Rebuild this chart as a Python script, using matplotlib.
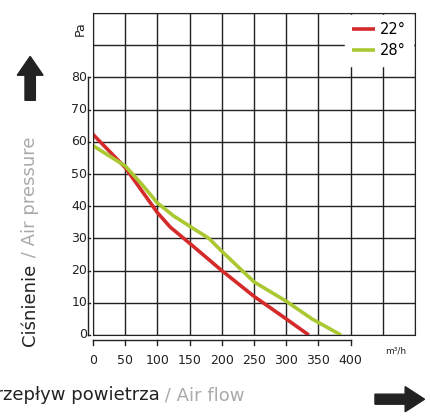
import matplotlib
matplotlib.use("Agg")
import matplotlib.pyplot as plt
from matplotlib.patches import FancyArrow

flow_22 = [0, 50, 75, 100, 120, 150, 200, 250, 300, 335]
pres_22 = [62.3, 52, 45, 38, 33.5, 28.5, 20, 12, 5, 0]
flow_28 = [0, 50, 75, 100, 125, 150, 180, 200, 250, 300, 340, 385]
pres_28 = [58.8, 52.5, 47, 41, 37, 33.8, 30, 26, 16.5, 10.5, 5, 0]
x_ticks = [0, 50, 100, 150, 200, 250, 300, 350, 400]
y_ticks = [0, 10, 20, 30, 40, 50, 60, 70, 80]

fig = plt.figure(figsize=(4.31, 4.18), dpi=100)
ax = fig.add_axes([93/431, 83/418, 322/431, 322/418])
ax.set_xlim(0, 500)
ax.set_ylim(0, 100)
ax.set_xticks(range(0, 501, 50))
ax.set_yticks(range(0, 101, 10))
ax.grid(True, color="#222222", lw=1)
ax.tick_params(length=0, labelbottom=False, labelleft=False)
for s in ax.spines.values():
    s.set_color("#222222")
ax.set_axisbelow(True)

ax.plot(flow_22, pres_22, color="#d42a2a", lw=2.6, label="22°", solid_capstyle="butt")
ax.plot(flow_28, pres_28, color="#a9c832", lw=2.6, label="28°", solid_capstyle="butt")
leg = ax.legend(loc="upper right", frameon=True, fontsize=10.5, handlelength=1.6,
                borderaxespad=0.15, handletextpad=0.3, labelspacing=0.4, borderpad=0.5)
leg.get_frame().set_edgecolor("white")
leg.get_frame().set_alpha(1)
leg.get_frame().set_boxstyle("square", pad=0)

# offset axes
lab_c = "#222222"
for v in x_ticks:
    ax.text(v, -6, str(v), ha="center", va="top", fontsize=9, color=lab_c)
    ax.plot([v, v], [-1.7, -3.2], color=lab_c, lw=1, clip_on=False)
ax.plot([0, 400], [-1.7, -1.7], color=lab_c, lw=1, clip_on=False)
for v in y_ticks:
    ax.text(-9, v, str(v), ha="right", va="center", fontsize=9, color=lab_c)
    ax.plot([-7, -4], [v, v], color=lab_c, lw=1, clip_on=False)
ax.plot([-7, -7], [0, 80], color=lab_c, lw=1, clip_on=False)
ax.text(-9, 95, "Pa", rotation=90, ha="right", va="center", fontsize=9, color=lab_c)
ax.text(470, -3.5, "m³/h", ha="center", va="top", fontsize=6.5, color=lab_c)

fig.text(0.37, 0.055, "Przepływ powietrza", ha="right", va="center", fontsize=13, color="#222222")
fig.text(0.37, 0.055, " / Air flow", ha="left", va="center", fontsize=13, color="#aaaaaa")
fig.text(0.07, 0.37, "Ciśnienie", rotation=90, ha="center", va="top", fontsize=13, color="#222222")
fig.text(0.07, 0.37, " / Air pressure", rotation=90, ha="center", va="bottom", fontsize=13, color="#aaaaaa")

fig.patches.append(FancyArrow(0.87, 0.045, 0.07, 0, width=0.024, head_width=0.06,
                              head_length=0.045, transform=fig.transFigure, color="#222222"))
fig.patches.append(FancyArrow(0.07, 0.76, 0, 0.06, width=0.024, head_width=0.06,
                              head_length=0.045, transform=fig.transFigure, color="#222222"))

fig.savefig("out.png", dpi=100)
